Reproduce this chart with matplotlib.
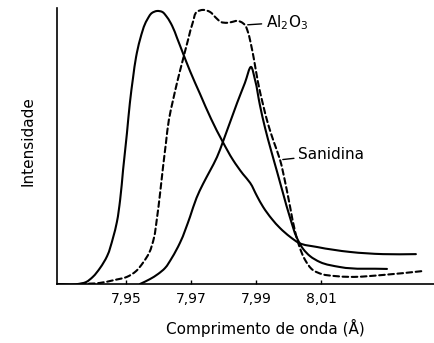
import numpy as np
import matplotlib
matplotlib.use("Agg")
import matplotlib.pyplot as plt
from matplotlib.path import Path
from matplotlib.patches import PathPatch

# comprimento de onda (A) e intensidade relativa de cada curva
wl_a = [7.9291, 7.9352, 7.9377, 7.9398, 7.9420, 7.9442, 7.9460, 7.9472, 7.9482,
        7.9491, 7.9503, 7.9512, 7.9522, 7.9531, 7.9543, 7.9565, 7.9580, 7.9595,
        7.9611, 7.9626, 7.9642, 7.9657, 7.9675, 7.9697, 7.9728, 7.9762, 7.9798,
        7.9829, 7.9860, 7.9882, 7.9903, 7.9922, 7.9949, 7.9974, 8.0005, 8.0032,
        8.0088, 8.0189, 8.0291, 8.0392]
int_a = [0.0, 0.0, 0.7, 2.6, 5.8, 10.2, 16.8, 22.6, 30.7,
         41.6, 55.1, 66.1, 75.5, 82.8, 89.1, 96.4, 98.9, 99.6,
         99.3, 97.4, 94.2, 89.8, 84.3, 77.7, 69.3, 60.2, 51.8,
         45.3, 40.1, 36.9, 32.1, 28.1, 23.7, 20.4, 17.2, 15.0,
         13.5, 11.7, 10.9, 10.9]

wl_al2o3 = [7.9358, 7.9420, 7.9466, 7.9503, 7.9531, 7.9552, 7.9571, 7.9586, 7.9595,
            7.9605, 7.9614, 7.9623, 7.9632, 7.9645, 7.9657, 7.9675, 7.9691, 7.9706,
            7.9718, 7.9737, 7.9758, 7.9777, 7.9792, 7.9811, 7.9826, 7.9842, 7.9854,
            7.9866, 7.9875, 7.9885, 7.9894, 7.9906, 7.9922, 7.9937, 7.9955, 7.9974,
            7.9989, 8.0005, 8.0020, 8.0032, 8.0051, 8.0075, 8.0103, 8.0143, 8.0189,
            8.0291, 8.0411]
int_al2o3 = [0.0, 0.4, 1.5, 2.6, 4.7, 7.7, 11.3, 16.8, 23.7,
             33.2, 42.7, 51.5, 59.9, 67.2, 73.4, 81.8, 89.1, 95.6,
             99.3, 100.0, 99.3, 97.1, 95.6, 95.3, 95.6, 96.0, 95.6,
             94.5, 92.0, 87.2, 81.8, 73.7, 65.3, 58.4, 51.8, 45.3,
             37.6, 28.1, 19.3, 14.2, 8.8, 5.1, 3.6, 2.9, 2.6,
             3.3, 4.7]

wl_c = [7.9543, 7.9574, 7.9598, 7.9620, 7.9641, 7.9666, 7.9697, 7.9717, 7.9737,
        7.9758, 7.9780, 7.9798, 7.9842, 7.9866, 7.9885, 7.9897, 7.9912, 7.9928,
        7.9946, 7.9965, 7.9983, 8.0005, 8.0026, 8.0045, 8.0066, 8.0097, 8.0158,
        8.0303]
int_c = [0.0, 1.8, 3.6, 5.8, 9.5, 15.0, 24.5, 31.4, 36.5,
         41.2, 46.3, 51.8, 66.1, 73.4, 79.2, 74.5, 65.3, 56.9,
         48.9, 40.9, 33.2, 24.1, 16.8, 12.8, 10.2, 8.0, 6.2,
         5.5]

tick_pos = [7.95, 7.97, 7.99, 8.01]
tick_txt = ["7,95", "7,97", "7,99", "8,01"]


def smooth_path(ax, x, y):
    # Catmull-Rom (parametro pelo comprimento da corda) em Bezier cubica
    pts = np.column_stack([x, y]).astype(float)
    disp = ax.transData.transform(pts)
    dt = np.hypot(*np.diff(disp, axis=0).T) + 1e-9
    n = len(pts)
    m = np.zeros_like(pts)
    m[0] = (pts[1] - pts[0]) / dt[0]
    m[-1] = (pts[-1] - pts[-2]) / dt[-1]
    for i in range(1, n - 1):
        a, b = dt[i - 1], dt[i]
        m[i] = ((pts[i] - pts[i - 1]) / a
                - (pts[i + 1] - pts[i - 1]) / (a + b)
                + (pts[i + 1] - pts[i]) / b)
    verts = [pts[0]]
    codes = [Path.MOVETO]
    for i in range(n - 1):
        verts += [pts[i] + m[i] * dt[i] / 3,
                  pts[i + 1] - m[i + 1] * dt[i] / 3,
                  pts[i + 1]]
        codes += [Path.CURVE4] * 3
    return Path(verts, codes)


def draw_curve(ax, x, y, **kw):
    patch = PathPatch(smooth_path(ax, x, y), fill=False, edgecolor="black",
                      lw=1.5, capstyle="round", joinstyle="round", **kw)
    ax.add_patch(patch)


fig = plt.figure(figsize=(4.34, 3.43), dpi=100)
ax = fig.add_axes([0.1313, 0.172, 0.8687, 0.8047])
ax.set_xlim(7.92877, 8.04477)
ax.set_ylim(0, 100.7)

draw_curve(ax, wl_a, int_a)
draw_curve(ax, wl_c, int_c)
draw_curve(ax, wl_al2o3, int_al2o3, linestyle=(0, (2.7, 1.7)))

for s in ["top", "right"]:
    ax.spines[s].set_visible(False)
for s in ["left", "bottom"]:
    ax.spines[s].set_linewidth(1.2)

ax.set_xticks(tick_pos)
ax.set_xticklabels(tick_txt, fontsize=10)
ax.tick_params(axis="x", direction="in", length=3, width=1, pad=6)
ax.set_yticks([])

ax.set_xlabel("Comprimento de onda (Å)", fontsize=11, va="center")
ax.xaxis.set_label_coords(0.552, -0.159)
ax.set_ylabel("Intensidade", fontsize=11, va="center")
ax.yaxis.set_label_coords(-0.077, 0.518)

# rotulos com traco de chamada
ax.annotate(r"Al$_2$O$_3$", xy=(wl_al2o3[27], int_al2o3[27]), xytext=(15, 2),
            textcoords="offset points", fontsize=11, ha="left", va="center",
            arrowprops=dict(arrowstyle="-", lw=1, shrinkA=1, shrinkB=2))
ax.annotate("Sanidina", xy=(wl_al2o3[35], int_al2o3[35]), xytext=(13, 4),
            textcoords="offset points", fontsize=11, ha="left", va="center",
            arrowprops=dict(arrowstyle="-", lw=1, shrinkA=1, shrinkB=2))

fig.savefig("out.png", dpi=100)
